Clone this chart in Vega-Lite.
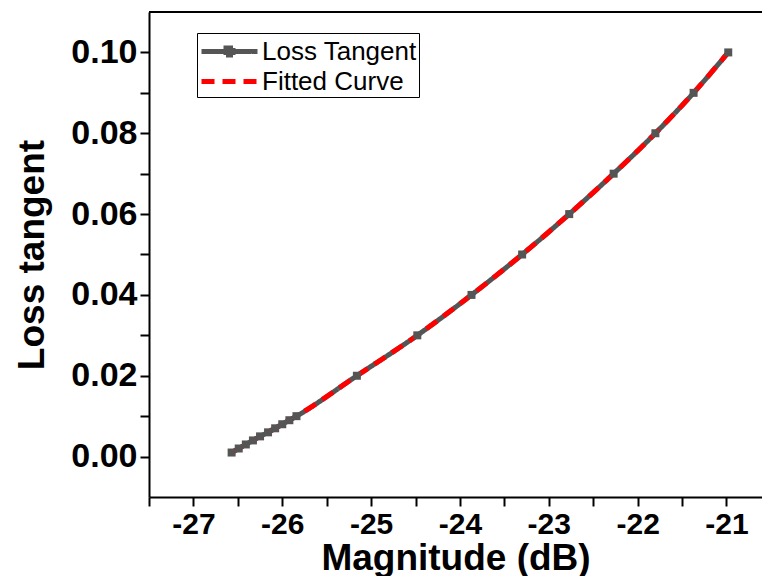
{
  "$schema": "https://vega.github.io/schema/vega-lite/v6.json",
  "width": 613,
  "height": 485,
  "autosize": "none",
  "padding": {"left": 149, "top": 12, "right": 0, "bottom": 79},
  "background": "white",
  "config": {
    "view": {"stroke": null},
    "font": "Liberation Sans",
    "axis": {"grid": false, "domainColor": "black", "domainWidth": 2, "tickColor": "black", "tickWidth": 2, "labelColor": "black", "titleColor": "black", "labelFont": "Liberation Sans", "titleFont": "Liberation Sans", "labelFontWeight": "bold", "titleFontWeight": "bold"}
  },
  "data": {
    "values": [
      {"x": -26.57, "y": 0.001, "series": "Loss Tangent"},
      {"x": -26.49, "y": 0.002, "series": "Loss Tangent"},
      {"x": -26.41, "y": 0.003, "series": "Loss Tangent"},
      {"x": -26.33, "y": 0.004, "series": "Loss Tangent"},
      {"x": -26.25, "y": 0.005, "series": "Loss Tangent"},
      {"x": -26.16, "y": 0.006, "series": "Loss Tangent"},
      {"x": -26.08, "y": 0.007, "series": "Loss Tangent"},
      {"x": -26.00, "y": 0.008, "series": "Loss Tangent"},
      {"x": -25.92, "y": 0.009, "series": "Loss Tangent"},
      {"x": -25.84, "y": 0.010, "series": "Loss Tangent"},
      {"x": -25.16, "y": 0.020, "series": "Loss Tangent"},
      {"x": -24.48, "y": 0.030, "series": "Loss Tangent"},
      {"x": -23.87, "y": 0.040, "series": "Loss Tangent"},
      {"x": -23.30, "y": 0.050, "series": "Loss Tangent"},
      {"x": -22.77, "y": 0.060, "series": "Loss Tangent"},
      {"x": -22.27, "y": 0.070, "series": "Loss Tangent"},
      {"x": -21.80, "y": 0.080, "series": "Loss Tangent"},
      {"x": -21.37, "y": 0.090, "series": "Loss Tangent"},
      {"x": -20.98, "y": 0.100, "series": "Loss Tangent"},
      {"x": -26.57, "y": 0.001, "series": "Fitted Curve"},
      {"x": -26.41, "y": 0.003, "series": "Fitted Curve"},
      {"x": -26.25, "y": 0.005, "series": "Fitted Curve"},
      {"x": -26.08, "y": 0.007, "series": "Fitted Curve"},
      {"x": -25.92, "y": 0.009, "series": "Fitted Curve"},
      {"x": -25.84, "y": 0.010, "series": "Fitted Curve"},
      {"x": -25.16, "y": 0.020, "series": "Fitted Curve"},
      {"x": -24.48, "y": 0.030, "series": "Fitted Curve"},
      {"x": -23.87, "y": 0.040, "series": "Fitted Curve"},
      {"x": -23.30, "y": 0.050, "series": "Fitted Curve"},
      {"x": -22.77, "y": 0.060, "series": "Fitted Curve"},
      {"x": -22.27, "y": 0.070, "series": "Fitted Curve"},
      {"x": -21.80, "y": 0.080, "series": "Fitted Curve"},
      {"x": -21.37, "y": 0.090, "series": "Fitted Curve"},
      {"x": -20.98, "y": 0.100, "series": "Fitted Curve"}
    ]
  },
  "layer": [
    {
      "mark": {"type": "line", "strokeWidth": 5, "interpolate": "monotone"},
      "encoding": {
        "x": {
          "field": "x", "type": "quantitative",
          "scale": {"domain": [-27.5, -20.6], "nice": false, "zero": false},
          "axis": {
            "title": "Magnitude (dB)",
            "values": [-27.5, -27, -26.5, -26, -25.5, -25, -24.5, -24, -23.5, -23, -22.5, -22, -21.5, -21],
            "labelExpr": "datum.value % 1 == 0 ? toString(datum.value) : ''",
            "tickSize": 9,
            "encode": {"ticks": {"update": {"y2": {"signal": "datum.value % 1 != 0 ? 4 : 9"}}}},
            "labelFontSize": 30,
            "labelPadding": 3,
            "titleFontSize": 37,
            "titlePadding": 1,
            "labelFlush": false,
            "labelOverlap": false
          }
        },
        "y": {
          "field": "y", "type": "quantitative",
          "scale": {"domain": [-0.01, 0.11], "nice": false, "zero": false},
          "axis": {
            "title": "Loss tangent",
            "values": [0, 0.01, 0.02, 0.03, 0.04, 0.05, 0.06, 0.07, 0.08, 0.09, 0.1],
            "labelExpr": "round(datum.value * 100) % 2 == 0 ? format(datum.value, '.2f') : ''",
            "tickSize": 9,
            "encode": {"ticks": {"update": {"x2": {"signal": "round(datum.value * 100) % 2 != 0 ? -4 : -9"}}}},
            "labelFontSize": 34,
            "labelPadding": 3,
            "titleFontSize": 37,
            "titlePadding": 19,
            "labelFlush": false,
            "labelOverlap": false
          }
        },
        "color": {
          "field": "series", "type": "nominal",
          "scale": {"domain": ["Loss Tangent", "Fitted Curve"], "range": ["#555555", "#ff0000"]},
          "legend": {
            "orient": "none", "legendX": 48, "legendY": 21,
            "title": null,
            "symbolType": "M-1,0H3",
            "symbolSize": 784,
            "symbolStrokeWidth": 5,
            "labelFontSize": 26,
            "labelFont": "Liberation Sans",
            "labelColor": "black",
            "strokeColor": "black",
            "padding": 2,
            "rowPadding": 0,
            "labelOffset": 30,
            "encode": {
              "symbols": {
                "update": {
                  "shape": {"signal": "datum.value == 'Loss Tangent' ? 'M-1,0H3M0.75,-0.25H1.25V0.25H0.75Z' : 'M-1,0H3'"},
                  "fill": {"signal": "datum.value == 'Loss Tangent' ? '#555555' : 'transparent'"}
                }
              }
            }
          }
        },
        "strokeDash": {
          "field": "series", "type": "nominal",
          "scale": {"domain": ["Loss Tangent", "Fitted Curve"], "range": [[1, 0], [13, 8]]}
        }
      }
    },
    {
      "transform": [{"filter": "datum.series == 'Loss Tangent'"}],
      "mark": {"type": "square", "size": 64, "color": "#555555", "opacity": 1},
      "encoding": {
        "x": {"field": "x", "type": "quantitative", "title": "Magnitude (dB)"},
        "y": {"field": "y", "type": "quantitative", "title": "Loss tangent"}
      }
    },
    {
      "mark": {"type": "rule", "color": "black", "strokeWidth": 2},
      "encoding": {
        "y": {"datum": 0.11, "type": "quantitative", "title": "Loss tangent"}
      }
    }
  ]
}
